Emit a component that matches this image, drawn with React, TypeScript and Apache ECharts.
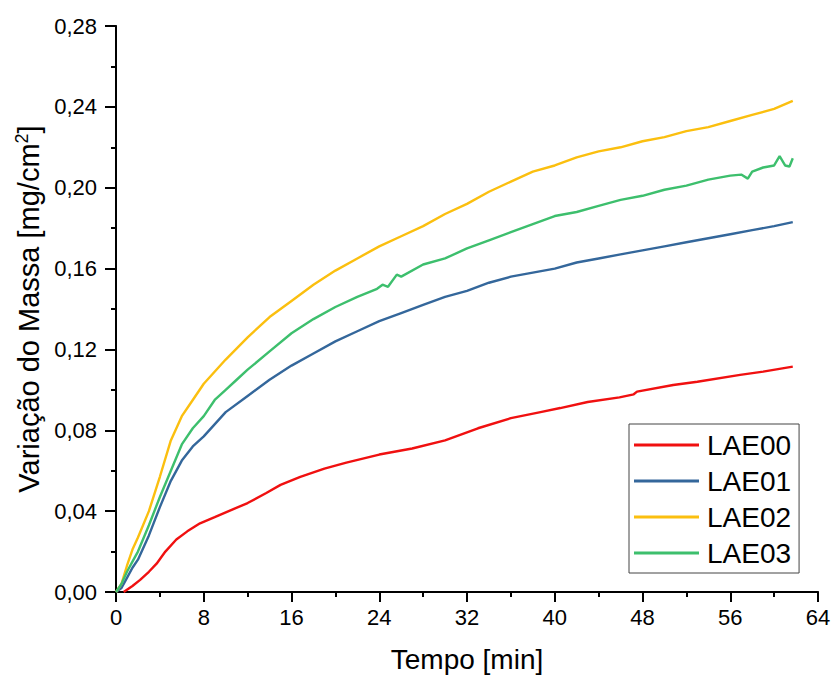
import React, { useEffect, useRef } from "react";
import * as echarts from "echarts";

const seriesNames = ["LAE00", "LAE01", "LAE02", "LAE03"];
const seriesColors = ["#f01010", "#34679b", "#fbbf0f", "#3dbf6d"];

const lae00: [number, number][] = [
  [0.7, 0], [1.5, 0.003], [2.2, 0.006], [3, 0.01], [3.7, 0.014], [4.5, 0.02], [5.5, 0.026],
  [6.5, 0.03], [7.66, 0.034], [9, 0.037], [10.7, 0.041], [12, 0.044], [13.7, 0.049],
  [15, 0.053], [16.8, 0.057], [19, 0.061], [21, 0.064], [24, 0.068], [27, 0.071],
  [30, 0.075], [33, 0.081], [36, 0.086], [38.7, 0.089], [40.5, 0.091], [43, 0.094],
  [45.9, 0.0963], [47.2, 0.0978], [47.5, 0.0991], [50.8, 0.1024], [53, 0.104],
  [56.9, 0.1074], [59, 0.109], [61.7, 0.1115],
];

const lae01: [number, number][] = [
  [0, 0], [0.5, 0.002], [1, 0.007], [1.5, 0.012], [2, 0.016], [3, 0.028], [4, 0.042],
  [5, 0.055], [6, 0.065], [7, 0.072], [8, 0.077], [10, 0.089], [12, 0.097], [14, 0.105],
  [16, 0.112], [18, 0.118], [20, 0.124], [22, 0.129], [24, 0.134], [26, 0.138],
  [28, 0.142], [30, 0.146], [32, 0.149], [34, 0.153], [36, 0.156], [38, 0.158],
  [40, 0.16], [42, 0.163], [44, 0.165], [46, 0.167], [48, 0.169], [50, 0.171],
  [52, 0.173], [54, 0.175], [56, 0.177], [58, 0.179], [60, 0.181], [61.7, 0.183],
];

const lae02: [number, number][] = [
  [0, 0], [0.5, 0.004], [1, 0.013], [1.5, 0.021], [2, 0.027], [3, 0.04], [4, 0.057],
  [5, 0.075], [6, 0.087], [7, 0.095], [8, 0.103], [10, 0.115], [12, 0.126], [14, 0.136],
  [16, 0.144], [18, 0.152], [20, 0.159], [22, 0.165], [24, 0.171], [26, 0.176],
  [28, 0.181], [30, 0.187], [32, 0.192], [34, 0.198], [36, 0.203], [38, 0.208],
  [40, 0.211], [42, 0.215], [44, 0.218], [46, 0.22], [48, 0.223], [50, 0.225],
  [52, 0.228], [54, 0.23], [56, 0.233], [58, 0.236], [60, 0.239], [61.7, 0.243],
];

const lae03: [number, number][] = [
  [0, 0], [0.5, 0.004], [1, 0.01], [1.5, 0.015], [2, 0.02], [3, 0.033], [4, 0.047],
  [5, 0.06], [6, 0.073], [7, 0.081], [8, 0.087], [9, 0.095], [10, 0.1], [11, 0.105],
  [12, 0.11], [14, 0.119], [16, 0.128], [18, 0.135], [20, 0.141], [22, 0.146],
  [23.8, 0.15], [24.3, 0.152], [24.8, 0.151], [25.6, 0.157], [26, 0.156], [28, 0.162],
  [30, 0.165], [32, 0.17], [34, 0.174], [36, 0.178], [38, 0.182], [40, 0.186],
  [42, 0.188], [44, 0.191], [46, 0.194], [48, 0.196], [50, 0.199], [52, 0.201],
  [54, 0.204], [56, 0.206], [57, 0.2065], [57.6, 0.2045], [58, 0.208], [59, 0.21],
  [60, 0.211], [60.5, 0.2156], [61, 0.211], [61.4, 0.2105], [61.7, 0.2146],
];

const seriesData = [lae00, lae01, lae02, lae03];

const FONT = "'Liberation Sans', Arial, sans-serif";

export default function App() {
  const ref = useRef<HTMLDivElement>(null);

  useEffect(() => {
    if (!ref.current) return;
    const chart = echarts.init(ref.current, null, { renderer: "svg" });
    const axisLineBold = { show: true, lineStyle: { color: "#000", width: 2 } };
    const axisLineThin = { show: true, lineStyle: { color: "#000", width: 1.5 } };
    chart.setOption({
      animation: false,
      backgroundColor: "#fff",
      textStyle: { fontFamily: FONT },
      grid: { left: 116, right: 16, top: 26, bottom: 87, containLabel: false },
      legend: {
        orient: "vertical",
        left: 629,
        top: 424,
        data: seriesNames,
        icon: "rect",
        itemWidth: 65,
        itemHeight: 3,
        itemGap: 8,
        itemStyle: { borderWidth: 0 },
        padding: [7, 8, 6, 5],
        backgroundColor: "#fff",
        borderColor: "#444",
        borderWidth: 1,
        borderRadius: 0,
        textStyle: { fontSize: 28, color: "#000", fontFamily: FONT, padding: [0, 0, 0, 3] },
      },
      xAxis: [
        {
          type: "value",
          min: 0,
          max: 64,
          interval: 8,
          position: "bottom",
          name: "Tempo [min]",
          nameLocation: "middle",
          nameGap: 53,
          nameTextStyle: { fontSize: 28, color: "#000", fontFamily: FONT },
          axisLine: axisLineBold,
          axisTick: { show: true, inside: false, length: 10, lineStyle: { color: "#000", width: 2 } },
          minorTick: { show: true, splitNumber: 2, length: 5, lineStyle: { color: "#000", width: 2 } },
          axisLabel: { fontSize: 22, color: "#000", margin: 14, fontFamily: FONT },
          splitLine: { show: false },
          minorSplitLine: { show: false },
        },
        {
          type: "value",
          min: 0,
          max: 64,
          interval: 8,
          position: "top",
          axisLine: axisLineThin,
          axisTick: { show: false },
          axisLabel: { show: false },
          splitLine: { show: false },
        },
      ],
      yAxis: [
        {
          type: "value",
          min: 0,
          max: 0.28,
          interval: 0.04,
          position: "left",
          name: "Variação do Massa [mg/cm{sup|2}]",
          nameLocation: "middle",
          nameGap: 68,
          nameRotate: 90,
          nameTextStyle: {
            fontSize: 29,
            color: "#000",
            fontFamily: FONT,
            rich: { sup: { fontSize: 18, color: "#000", fontFamily: FONT, padding: [0, 0, 14, 0] } },
          },
          axisLine: axisLineBold,
          axisTick: { show: true, inside: false, length: 11, lineStyle: { color: "#000", width: 2 } },
          minorTick: { show: true, splitNumber: 2, length: 5, lineStyle: { color: "#000", width: 2 } },
          axisLabel: {
            fontSize: 22,
            color: "#000",
            margin: 19,
            fontFamily: FONT,
            formatter: (v: number) => v.toFixed(2).replace(".", ","),
          },
          splitLine: { show: false },
          minorSplitLine: { show: false },
        },
        {
          type: "value",
          min: 0,
          max: 0.28,
          interval: 0.04,
          position: "right",
          axisLine: axisLineThin,
          axisTick: { show: false },
          axisLabel: { show: false },
          splitLine: { show: false },
        },
      ],
      series: seriesNames.map((name, i) => ({
        name,
        type: "line",
        xAxisIndex: 0,
        yAxisIndex: 0,
        data: seriesData[i],
        showSymbol: false,
        symbol: "none",
        smooth: false,
        color: seriesColors[i],
        lineStyle: { color: seriesColors[i], width: 2.4 },
        z: 2 + i,
      })),
    });
    return () => chart.dispose();
  }, []);

  return <div ref={ref} style={{ width: 834, height: 679, position: "absolute", left: 0, top: 0 }} />;
}
